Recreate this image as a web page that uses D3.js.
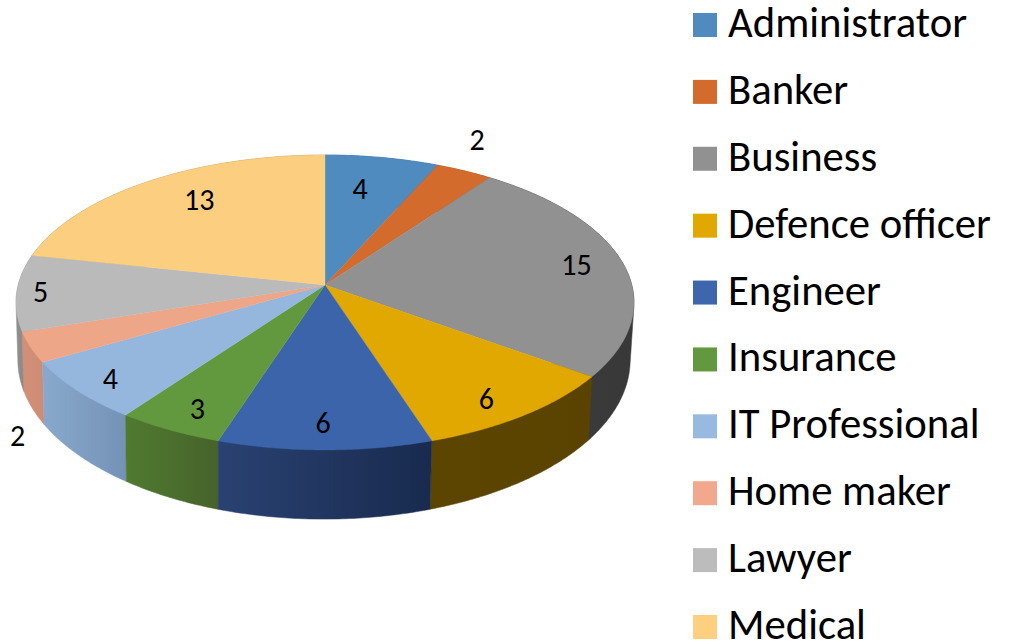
<!DOCTYPE html>
<html><head><meta charset="utf-8">
<style>html,body{margin:0;padding:0;background:#fff;overflow:hidden}svg{display:block}text{font-family:Carlito,Lato,"Open Sans",sans-serif;fill:#000}</style>
<script src="https://cdn.jsdelivr.net/npm/d3@7/dist/d3.min.js"></script>
</head><body><script>
const categories=["Administrator","Banker","Business","Defence officer","Engineer","Insurance","IT Professional","Home maker","Lawyer","Medical"];
const counts=[4,2,15,6,6,3,4,2,5,13];
const topColors=["#4f8bbf","#d26b2b","#919191","#e0a800","#3c64ab","#62993e","#95b7dd","#eea689","#bababa","#fbcf7f"];
const legendColors=["#4f8bbf","#d26b2b","#919191","#e0a800","#3e66ad","#62993e","#98bae0","#f2a88c","#bcbcbc","#fdd07f"];
const wallStart=["#34607f","#8a471d","#3f3f3f","#5c4500","#2a4272","#507a30","#88a9cd","#d39078","#8f8f8f","#a88a55"];
const wallEnd=["#34607f","#8a471d","#383838","#5a4300","#182a4e","#46632a","#7492b5","#cf8c74","#858585","#a88a55"];
const labelOffsets=[[-22,31],[13,-31],[-46,2],[-38,-17],[-2,-27],[28,-21],[33,-12],[-13,88],[24,-1],[51,18]];

const W=1009,H=643;
const svg=d3.select("body").append("svg").attr("width",W).attr("height",H);
const defs=svg.append("defs");

const persp=0.1186;
const rim=(cx,cy,a,b)=>(t,f=1)=>{
  const u=Math.sin(t)*f,v=-Math.cos(t)*f,d=1-persp*v;
  return [cx+a*u/d,cy+b*v/d];
};
const topRim=rim(325,285,306.8,145.4);
const botRim=rim(324,341,304,157);
const arcs=d3.pie().sort(null).value(d=>d).startAngle(0).endAngle(2*Math.PI)(counts);
const sample=(fn,a)=>{
  const n=Math.max(2,Math.ceil((a.endAngle-a.startAngle)/0.01));
  return d3.range(n+1).map(i=>fn(a.startAngle+(a.endAngle-a.startAngle)*i/n));
};
const line=d3.line();

// walls, drawn back to front
const order=d3.range(arcs.length).sort((p,q)=>topRim((arcs[p].startAngle+arcs[p].endAngle)/2)[1]-topRim((arcs[q].startAngle+arcs[q].endAngle)/2)[1]);
const walls=svg.append("g");
order.forEach(i=>{
  const a=arcs[i];
  const hull=d3.polygonHull(sample(topRim,a).concat(sample(botRim,a)));
  const xs=hull.map(p=>p[0]);
  const id="wall"+i;
  const g=defs.append("linearGradient").attr("id",id).attr("gradientUnits","userSpaceOnUse")
    .attr("x1",d3.min(xs)).attr("x2",d3.max(xs)).attr("y1",0).attr("y2",0);
  g.append("stop").attr("offset",0).attr("stop-color",wallStart[i]);
  g.append("stop").attr("offset",1).attr("stop-color",wallEnd[i]);
  walls.append("path").attr("d",line(hull)+"Z").attr("fill",`url(#${id})`)
    .attr("stroke",`url(#${id})`).attr("stroke-width",0.5);
});

// top face
svg.append("g").selectAll("path").data(arcs).join("path")
  .attr("d",a=>line([topRim(0,0)].concat(sample(topRim,a)))+"Z")
  .attr("fill",(a,i)=>topColors[i])
  .attr("stroke",(a,i)=>topColors[i]).attr("stroke-width",0.4);

// value labels
svg.append("g").selectAll("text").data(arcs).join("text")
  .attr("x",(a,i)=>topRim((a.startAngle+a.endAngle)/2)[0]+labelOffsets[i][0])
  .attr("y",(a,i)=>topRim((a.startAngle+a.endAngle)/2)[1]+labelOffsets[i][1])
  .attr("text-anchor","middle").attr("dominant-baseline","central")
  .attr("font-size",30).text(a=>a.value);

// legend
const ly=d3.scaleLinear().domain([0,categories.length-1]).range([25,627]);
const leg=svg.append("g").selectAll("g").data(categories).join("g")
  .attr("transform",(d,i)=>`translate(693,${ly(i)})`);
leg.append("rect").attr("x",0).attr("y",-12).attr("width",24).attr("height",24).attr("fill",(d,i)=>legendColors[i]);
leg.append("text").attr("x",35).attr("y",12).attr("font-size",42.7).text(d=>d);
</script></body></html>
